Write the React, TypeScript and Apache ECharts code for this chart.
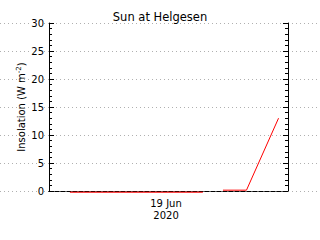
import React, { useEffect, useRef } from "react";
import * as echarts from "echarts";

// Time in hours since 18 Jun 2020 00:00
const timeHours = [14.35, 27.7, 28.7, 29.72, 32.08, 35.3];
// Insolation (W m^-2); null marks a data gap
const insolation: (number | null)[] = [-0.22, -0.22, null, 0.15, 0.15, 13.0];

const xMin = 12.25;
const xMax = 36.25;
const xTickValues = [24];
const xTickLabels = ["19 Jun\n2020"];

const yMin = 0;
const yMax = 30;
const yInterval = 5;

const titleText = "Sun at Helgesen";
const FONT = "DejaVu Sans";

export default function App() {
  const ref = useRef<HTMLDivElement>(null);

  useEffect(() => {
    if (!ref.current) return;
    const chart = echarts.init(ref.current, undefined, { renderer: "svg" });
    const data = timeHours.map((t, i) => [t, insolation[i] === null ? "-" : insolation[i]]);

    const dashedLine = { show: true, lineStyle: { color: "#000", width: 1, type: [4, 2] as any } };

    chart.setOption({
      animation: false,
      backgroundColor: "#fff",
      title: {
        text: titleText,
        left: "center",
        top: 6,
        textStyle: { fontFamily: FONT, fontSize: 11.5, fontWeight: "normal", color: "#000" },
      },
      grid: [
        { left: 49, right: 32, top: 23, bottom: 49 },
        { left: 0, right: 0, top: 23, bottom: 49 },
      ],
      xAxis: [
        {
          type: "value",
          gridIndex: 0,
          position: "bottom",
          min: xMin,
          max: xMax,
          z: 3,
          axisLine: dashedLine,
          axisTick: { show: false },
          splitLine: { show: false },
          axisLabel: {
            show: true,
            customValues: xTickValues,
            formatter: (v: number) => {
              const i = xTickValues.indexOf(v);
              return i >= 0 ? xTickLabels[i] : "";
            },
            fontFamily: FONT,
            fontSize: 10,
            lineHeight: 12.5,
            color: "#000",
            margin: 6,
          },
        },
        {
          type: "value",
          gridIndex: 0,
          position: "top",
          min: xMin,
          max: xMax,
          z: 3,
          axisLine: dashedLine,
          axisTick: { show: false },
          splitLine: { show: false },
          axisLabel: { show: false },
        },
        {
          type: "value",
          gridIndex: 1,
          min: 0,
          max: 1,
          show: false,
        },
      ],
      yAxis: [
        {
          type: "value",
          gridIndex: 0,
          position: "left",
          min: yMin,
          max: yMax,
          interval: yInterval,
          z: 3,
          name: "Insolation (W m{sup|-2})",
          nameLocation: "middle",
          nameGap: 21,
          nameMoveOverlap: false,
          nameTextStyle: {
            fontFamily: FONT,
            fontSize: 10,
            color: "#000",
            rich: {
              sup: { fontFamily: FONT, fontSize: 7, color: "#000", verticalAlign: "top", padding: [0, 0, 6, 0] },
            },
          },
          axisLine: { show: true, lineStyle: { color: "#000", width: 1 } },
          axisTick: { show: true, inside: true, length: 5, lineStyle: { color: "#000" } },
          minorTick: { show: true, splitNumber: 5, length: 3, lineStyle: { color: "#000" } },
          splitLine: { show: false },
          axisLabel: {
            fontFamily: FONT,
            fontSize: 10,
            color: "#000",
            margin: 5,
            backgroundColor: "#fff",
          },
        },
        {
          type: "value",
          gridIndex: 0,
          position: "right",
          min: yMin,
          max: yMax,
          interval: yInterval,
          z: 3,
          axisLine: { show: true, lineStyle: { color: "#000", width: 1 } },
          axisTick: { show: true, inside: true, length: 5, lineStyle: { color: "#000" } },
          minorTick: { show: true, splitNumber: 5, length: 3, lineStyle: { color: "#000" } },
          splitLine: { show: false },
          axisLabel: { show: false },
        },
        {
          type: "value",
          gridIndex: 1,
          min: yMin,
          max: yMax,
          interval: yInterval,
          z: 0,
          axisLine: { show: false },
          axisTick: { show: false },
          axisLabel: { show: false },
          splitLine: { show: true, lineStyle: { color: "#b0b0b0", width: 1, type: [1, 3] as any } },
        },
      ],
      series: [
        {
          type: "line",
          xAxisIndex: 0,
          yAxisIndex: 0,
          data,
          showSymbol: false,
          symbol: "none",
          connectNulls: false,
          clip: false,
          z: 5,
          lineStyle: { color: "#ff0000", width: 1 },
        },
      ],
    });
    return () => chart.dispose();
  }, []);

  return (
    <div
      ref={ref}
      style={{ position: "fixed", left: 0, top: 0, width: 320, height: 240, background: "#fff" }}
    />
  );
}
